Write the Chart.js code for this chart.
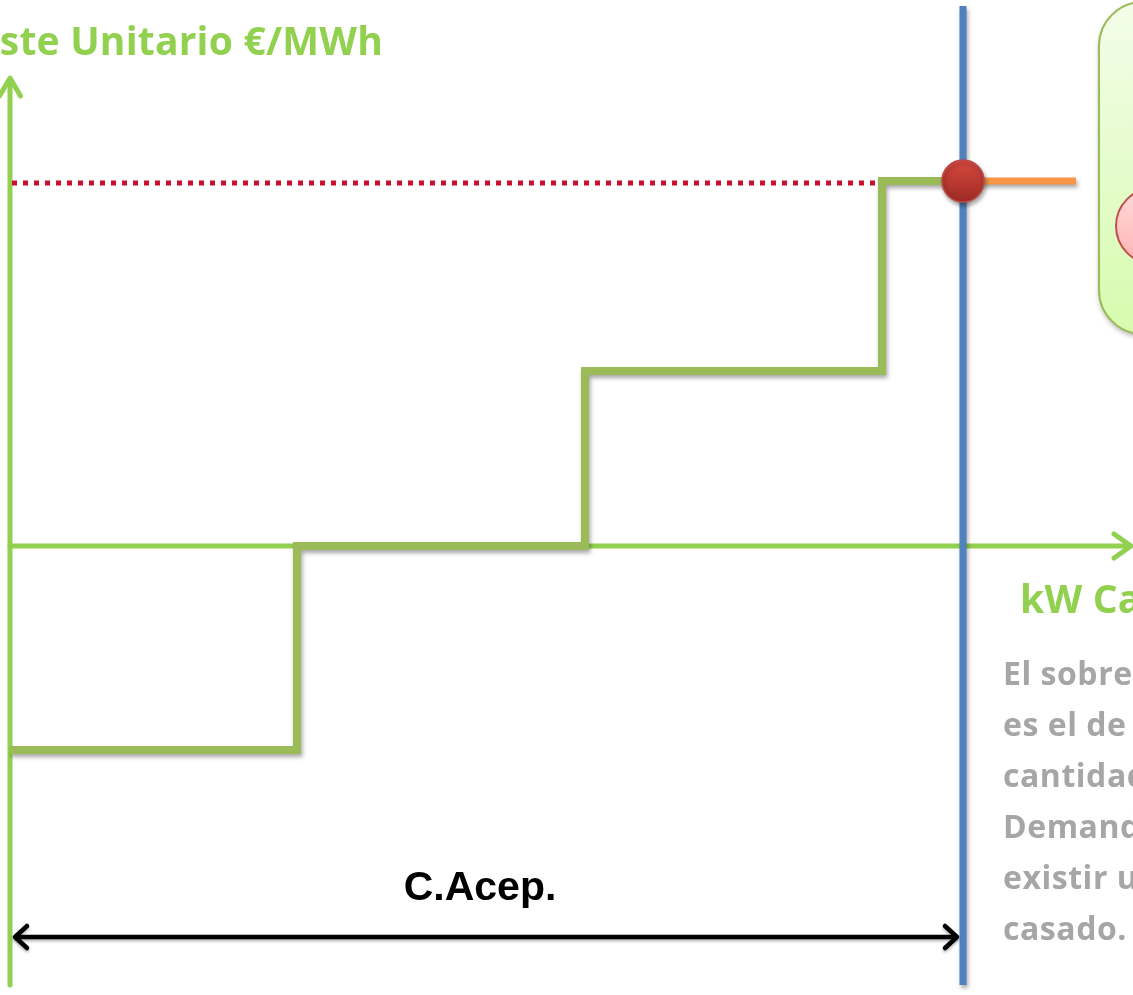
<!DOCTYPE html>
<html>
<head>
<meta charset="utf-8">
<script src="https://cdn.jsdelivr.net/npm/chart.js@4"></script>
<style>
html,body{margin:0;padding:0;background:#fff;}
#wrap{width:1133px;height:995px;position:relative;}
</style>
</head>
<body>
<div id="wrap"><canvas id="c"></canvas></div>
<script>
// ---- data (capacity in kW units, unit cost in €/MWh units) ----
const stepCapacities = [0, 28.7, 57.5, 87.2, 95.3];     // offer block starts + matched point
const stepPrices     = [-20.4, 0, 17.5, 36.5, 36.5];     // offer block prices
const matchedCapacity = 95.3;
const matchedPrice = 36.5;
const demandExtension = [95.3, 106.6];                   // orange segment
const referencePrice = 36.3;                              // dotted red line
const referenceRange = [0.2, 86.8];
const matchLineRange = [-43.9, 54.0];                     // blue vertical line
const acceptedRange = [0.5, 94.7];                        // C.Acep. arrow
const acceptedLevel = -39.1;
const yAxisRange = [-43.9, 46.8];
const xAxisEnd = 112.1;
const xLimits = [-1, 112.3];
const yLimits = [-44.9, 54.6];

const yTitle = 'Coste Unitario €/MWh';
const xTitle = 'kW Casados';
const bracketLabel = 'C.Acep.';
const noteLines = ['El sobrecoste asignado', 'es el de la última', 'cantidad casada de la', 'Demanda, al no', 'existir un precio', 'casado.'];

const stepData = stepCapacities.map((c, i) => ({x: c, y: stepPrices[i]}));

const shadowPlugin = {
  id: 'shadow',
  beforeDatasetDraw(chart, args) {
    const ds = chart.data.datasets[args.index];
    chart.ctx.save();
    if (ds.shadow) {
      chart.ctx.shadowColor = 'rgba(0,0,0,0.35)';
      chart.ctx.shadowBlur = 4;
      chart.ctx.shadowOffsetX = 1.5;
      chart.ctx.shadowOffsetY = 3;
    }
  },
  afterDatasetDraw(chart) { chart.ctx.restore(); }
};

function chevron(ctx, tx, ty, dx, dy, half) {
  const len = half[0], w = half[1];
  const px = -dy, py = dx;
  ctx.beginPath();
  ctx.moveTo(tx - dx*len + px*w, ty - dy*len + py*w);
  ctx.lineTo(tx, ty);
  ctx.lineTo(tx - dx*len - px*w, ty - dy*len - py*w);
  ctx.stroke();
}

const decoPlugin = {
  id: 'deco',
  beforeDatasetsDraw(chart) {
    const {ctx, scales: {x, y}} = chart;
    const X = v => x.getPixelForValue(v), Y = v => y.getPixelForValue(v);
    ctx.save();
    ctx.strokeStyle = '#92d050';
    ctx.lineWidth = 5;
    ctx.lineCap = 'round';
    ctx.lineJoin = 'round';
    ctx.beginPath();
    ctx.moveTo(X(0), Y(yAxisRange[0]));
    ctx.lineTo(X(0), Y(yAxisRange[1]) + 2);
    ctx.stroke();
    chevron(ctx, X(0), Y(yAxisRange[1]), 0, -1, [18, 10.5]);
    ctx.beginPath();
    ctx.moveTo(X(0), Y(0));
    ctx.lineTo(X(xAxisEnd) - 2, Y(0));
    ctx.stroke();
    chevron(ctx, X(xAxisEnd), Y(0), 1, 0, [17, 12]);
    ctx.restore();
  },
  afterDraw(chart) {
    const {ctx, scales: {x, y}} = chart;
    const X = v => x.getPixelForValue(v), Y = v => y.getPixelForValue(v);
    ctx.save();
    ctx.shadowColor = 'rgba(0,0,0,0.3)';
    ctx.shadowBlur = 3; ctx.shadowOffsetY = 2;
    ctx.strokeStyle = '#000';
    ctx.lineWidth = 4.5;
    ctx.lineCap = 'round'; ctx.lineJoin = 'round';
    const ay = Y(acceptedLevel);
    ctx.beginPath();
    ctx.moveTo(X(acceptedRange[0]) + 2, ay);
    ctx.lineTo(X(acceptedRange[1]) - 2, ay);
    ctx.stroke();
    chevron(ctx, X(acceptedRange[0]), ay, -1, 0, [12, 11]);
    chevron(ctx, X(acceptedRange[1]), ay, 1, 0, [12, 11]);
    ctx.restore();

    // right-hand rounded box
    ctx.save();
    const bx = 1099, by = 2, bw = 320, bh = 332, r = 44;
    ctx.shadowColor = 'rgba(0,0,0,0.3)';
    ctx.shadowBlur = 5; ctx.shadowOffsetY = 3;
    const g = ctx.createLinearGradient(0, by, 0, by + bh);
    g.addColorStop(0, '#f3fdea');
    g.addColorStop(1, '#d6fbae');
    ctx.fillStyle = g;
    ctx.beginPath();
    ctx.roundRect(bx, by, bw, bh, r);
    ctx.fill();
    ctx.shadowColor = 'transparent';
    ctx.strokeStyle = '#9bbb59';
    ctx.lineWidth = 2;
    ctx.stroke();
    const pg = ctx.createLinearGradient(0, 188, 0, 264);
    pg.addColorStop(0, '#ffdada');
    pg.addColorStop(1, '#ffb4b4');
    ctx.fillStyle = pg;
    ctx.beginPath();
    ctx.ellipse(1154, 226, 38, 38, 0, 0, Math.PI * 2);
    ctx.fill();
    ctx.strokeStyle = '#c0504d';
    ctx.lineWidth = 2;
    ctx.stroke();
    ctx.restore();

    // texts
    ctx.save();
    ctx.textBaseline = 'alphabetic';
    const fam = '"Open Sans", Lato, sans-serif';
    ctx.font = 'bold 39px ' + fam;
    ctx.letterSpacing = '0px';
    const wT = ctx.measureText('ste Unitario €/MWh').width;
    const lsT = Math.max(-1.5, Math.min(1.5, (383 - wT) / 17));
    ctx.letterSpacing = lsT.toFixed(2) + 'px';
    ctx.fillStyle = '#92d050';
    ctx.textAlign = 'right';
    ctx.fillText(yTitle, 383, 55);
    ctx.textAlign = 'left';
    ctx.fillText(xTitle, 1020, 613);

    ctx.font = 'bold 32px ' + fam;
    ctx.letterSpacing = '0px';
    const wD = ctx.measureText('Deman').width;
    const lsD = Math.max(0, Math.min(3, (117 - wD) / 5));
    ctx.letterSpacing = lsD.toFixed(2) + 'px';
    ctx.fillStyle = '#a6a6a6';
    noteLines.forEach((t, i) => ctx.fillText(t, 1003, 685 + i * 51));

    ctx.letterSpacing = '0px';
    ctx.font = 'bold 41px "Liberation Sans", Arial, sans-serif';
    ctx.fillStyle = '#000';
    ctx.textAlign = 'center';
    ctx.fillText(bracketLabel, X((acceptedRange[0] + acceptedRange[1]) / 2) - 6, 900);
    ctx.restore();
  }
};

function dotFill(c) {
  const ch = c.chart, sy = ch.scales && ch.scales.y;
  const py = sy ? sy.getPixelForValue(matchedPrice) : NaN;
  if (!isFinite(py)) return '#c0392b';
  const gr = ch.ctx.createLinearGradient(0, py - 21, 0, py + 21);
  gr.addColorStop(0, '#d9493f');
  gr.addColorStop(1, '#9c2a25');
  return gr;
}

new Chart(document.getElementById('c'), {
  type: 'scatter',
  data: {
    datasets: [
      {
        label: 'casación',
        data: [{x: matchedCapacity, y: matchedPrice}],
        pointRadius: 21,
        pointHoverRadius: 21,
        pointBorderWidth: 1.5,
        pointBorderColor: '#b94a48',
        pointBackgroundColor: dotFill,
        showLine: false,
        shadow: true,
        clip: false
      },
      {
        label: 'demanda',
        data: matchLineRange.map(v => ({x: matchedCapacity, y: v})),
        showLine: true,
        borderColor: '#4f81bd',
        borderWidth: 7,
        pointRadius: 0,
        shadow: true,
        clip: false
      },
      {
        label: 'extension',
        data: demandExtension.map(v => ({x: v, y: matchedPrice})),
        showLine: true,
        borderColor: '#f79646',
        borderWidth: 7,
        pointRadius: 0,
        shadow: true,
        clip: false
      },
      {
        label: 'oferta',
        data: stepData,
        showLine: true,
        stepped: true,
        borderColor: '#9bbb59',
        borderWidth: 8,
        borderJoinStyle: 'miter',
        borderCapStyle: 'butt',
        pointRadius: 0,
        shadow: true,
        clip: false
      },
      {
        label: 'precio',
        data: referenceRange.map(v => ({x: v, y: referencePrice})),
        showLine: true,
        borderColor: '#c8102e',
        borderWidth: 5,
        borderDash: [5, 6],
        pointRadius: 0,
        clip: false
      }
    ]
  },
  options: {
    responsive: true,
    maintainAspectRatio: false,
    animation: false,
    layout: {padding: 0, autoPadding: false},
    plugins: {legend: {display: false}, tooltip: {enabled: false}},
    events: [],
    scales: {
      x: {type: 'linear', display: false, min: xLimits[0], max: xLimits[1]},
      y: {type: 'linear', display: false, min: yLimits[0], max: yLimits[1]}
    }
  },
  plugins: [shadowPlugin, decoPlugin]
});
</script>
</body>
</html>
